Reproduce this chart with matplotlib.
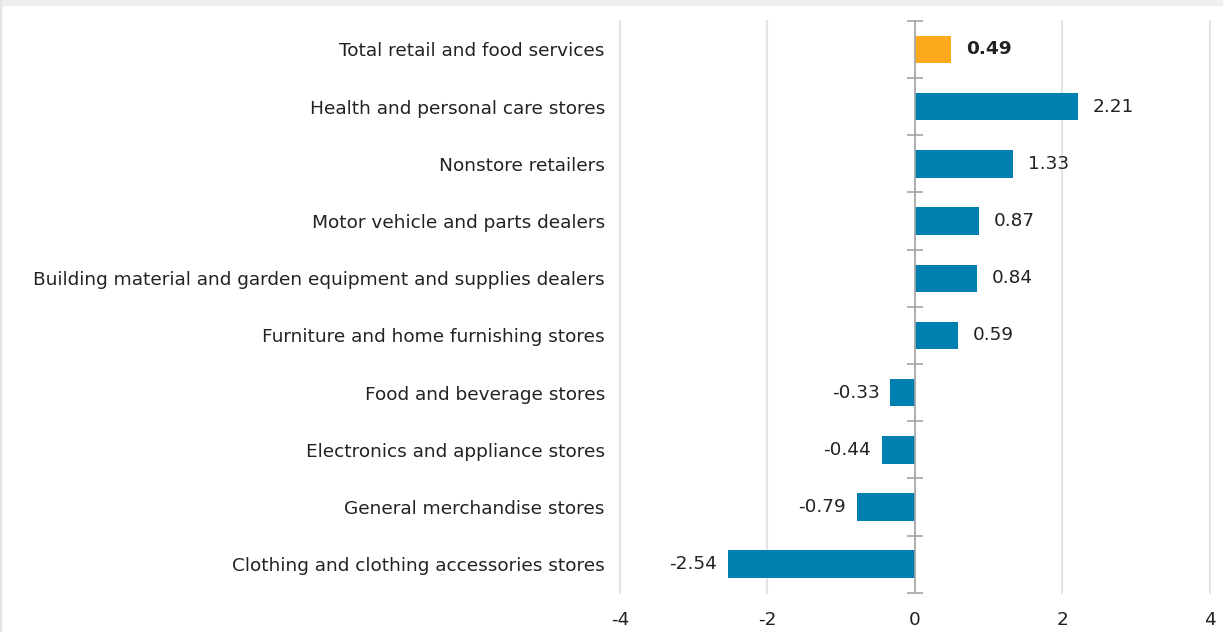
import matplotlib
matplotlib.use("Agg")
from matplotlib import pyplot as plt
from matplotlib.patches import Rectangle

# Categories top to bottom and their values (% change)
categories = ["Total retail and food services",
              "Health and personal care stores",
              "Nonstore retailers",
              "Motor vehicle and parts dealers",
              "Building material and garden equipment and supplies dealers",
              "Furniture and home furnishing stores",
              "Food and beverage stores",
              "Electronics and appliance stores",
              "General merchandise stores",
              "Clothing and clothing accessories stores"]
values = [0.49, 2.21, 1.33, 0.87, 0.84, 0.59, -0.33, -0.44, -0.79, -2.54]
highlight = "Total retail and food services"
x_ticks = [-4, -2, 0, 2, 4]

BLUE = "#0080b1"
ORANGE = "#fcaa1c"
FS = 13.3

plt.rcParams['font.family'] = ['DejaVu Sans']
plt.rcParams['axes.unicode_minus'] = False

fig = plt.figure(figsize=(12.23, 6.32), dpi=100)
# light gray frame strip at the top and left
fig.patches.append(Rectangle((0, 0.992), 1, 0.008, transform=fig.transFigure,
                             color="#efefef", zorder=0))
fig.patches.append(Rectangle((0, 0), 0.0009, 1, transform=fig.transFigure,
                             color="#e4e4e4", zorder=0))

ax = fig.add_axes([0.507, 0.062, 0.482, 0.905])

n = len(categories)
y = list(range(n))[::-1]
colors = [ORANGE if c == highlight else BLUE for c in categories]
ax.barh(y, values, height=0.48, color=colors, zorder=3)

# value labels
for yi, v, c in zip(y, values, categories):
    weight = "bold" if c == highlight else "normal"
    if v >= 0:
        ax.text(v + 0.2, yi, f"{v:.2f}", va="center", ha="left",
                fontsize=FS, color="#222222", fontweight=weight)
    else:
        ax.text(v - 0.15, yi, f"{v:.2f}", va="center", ha="right",
                fontsize=FS, color="#222222", fontweight=weight)

# zero axis with cross ticks between categories
ax.axvline(0, color="#a6a6a6", lw=1.2, zorder=4)
bounds = [i - 0.5 for i in range(n + 1)]
ax.plot([0] * len(bounds), bounds, ls="none", marker="_", ms=11,
        mew=1.2, color="#a6a6a6", zorder=4, clip_on=False)

ax.set_xlim(-4, 4)
ax.set_ylim(-0.5, n - 0.5)
ax.set_xticks(x_ticks)
ax.set_yticks(y)
ax.set_yticklabels(categories)
ax.tick_params(axis="y", length=0, pad=11, labelsize=FS, labelcolor="#222222")
ax.tick_params(axis="x", length=0, pad=13, labelsize=FS, labelcolor="#222222")
ax.xaxis.grid(True, color="#e4e4e4", lw=1.5, zorder=0)
for gl in ax.get_xgridlines():
    gl.set_clip_on(False)
ax.set_axisbelow(True)
for s in ax.spines.values():
    s.set_visible(False)

fig.savefig("out.png", dpi=100)
